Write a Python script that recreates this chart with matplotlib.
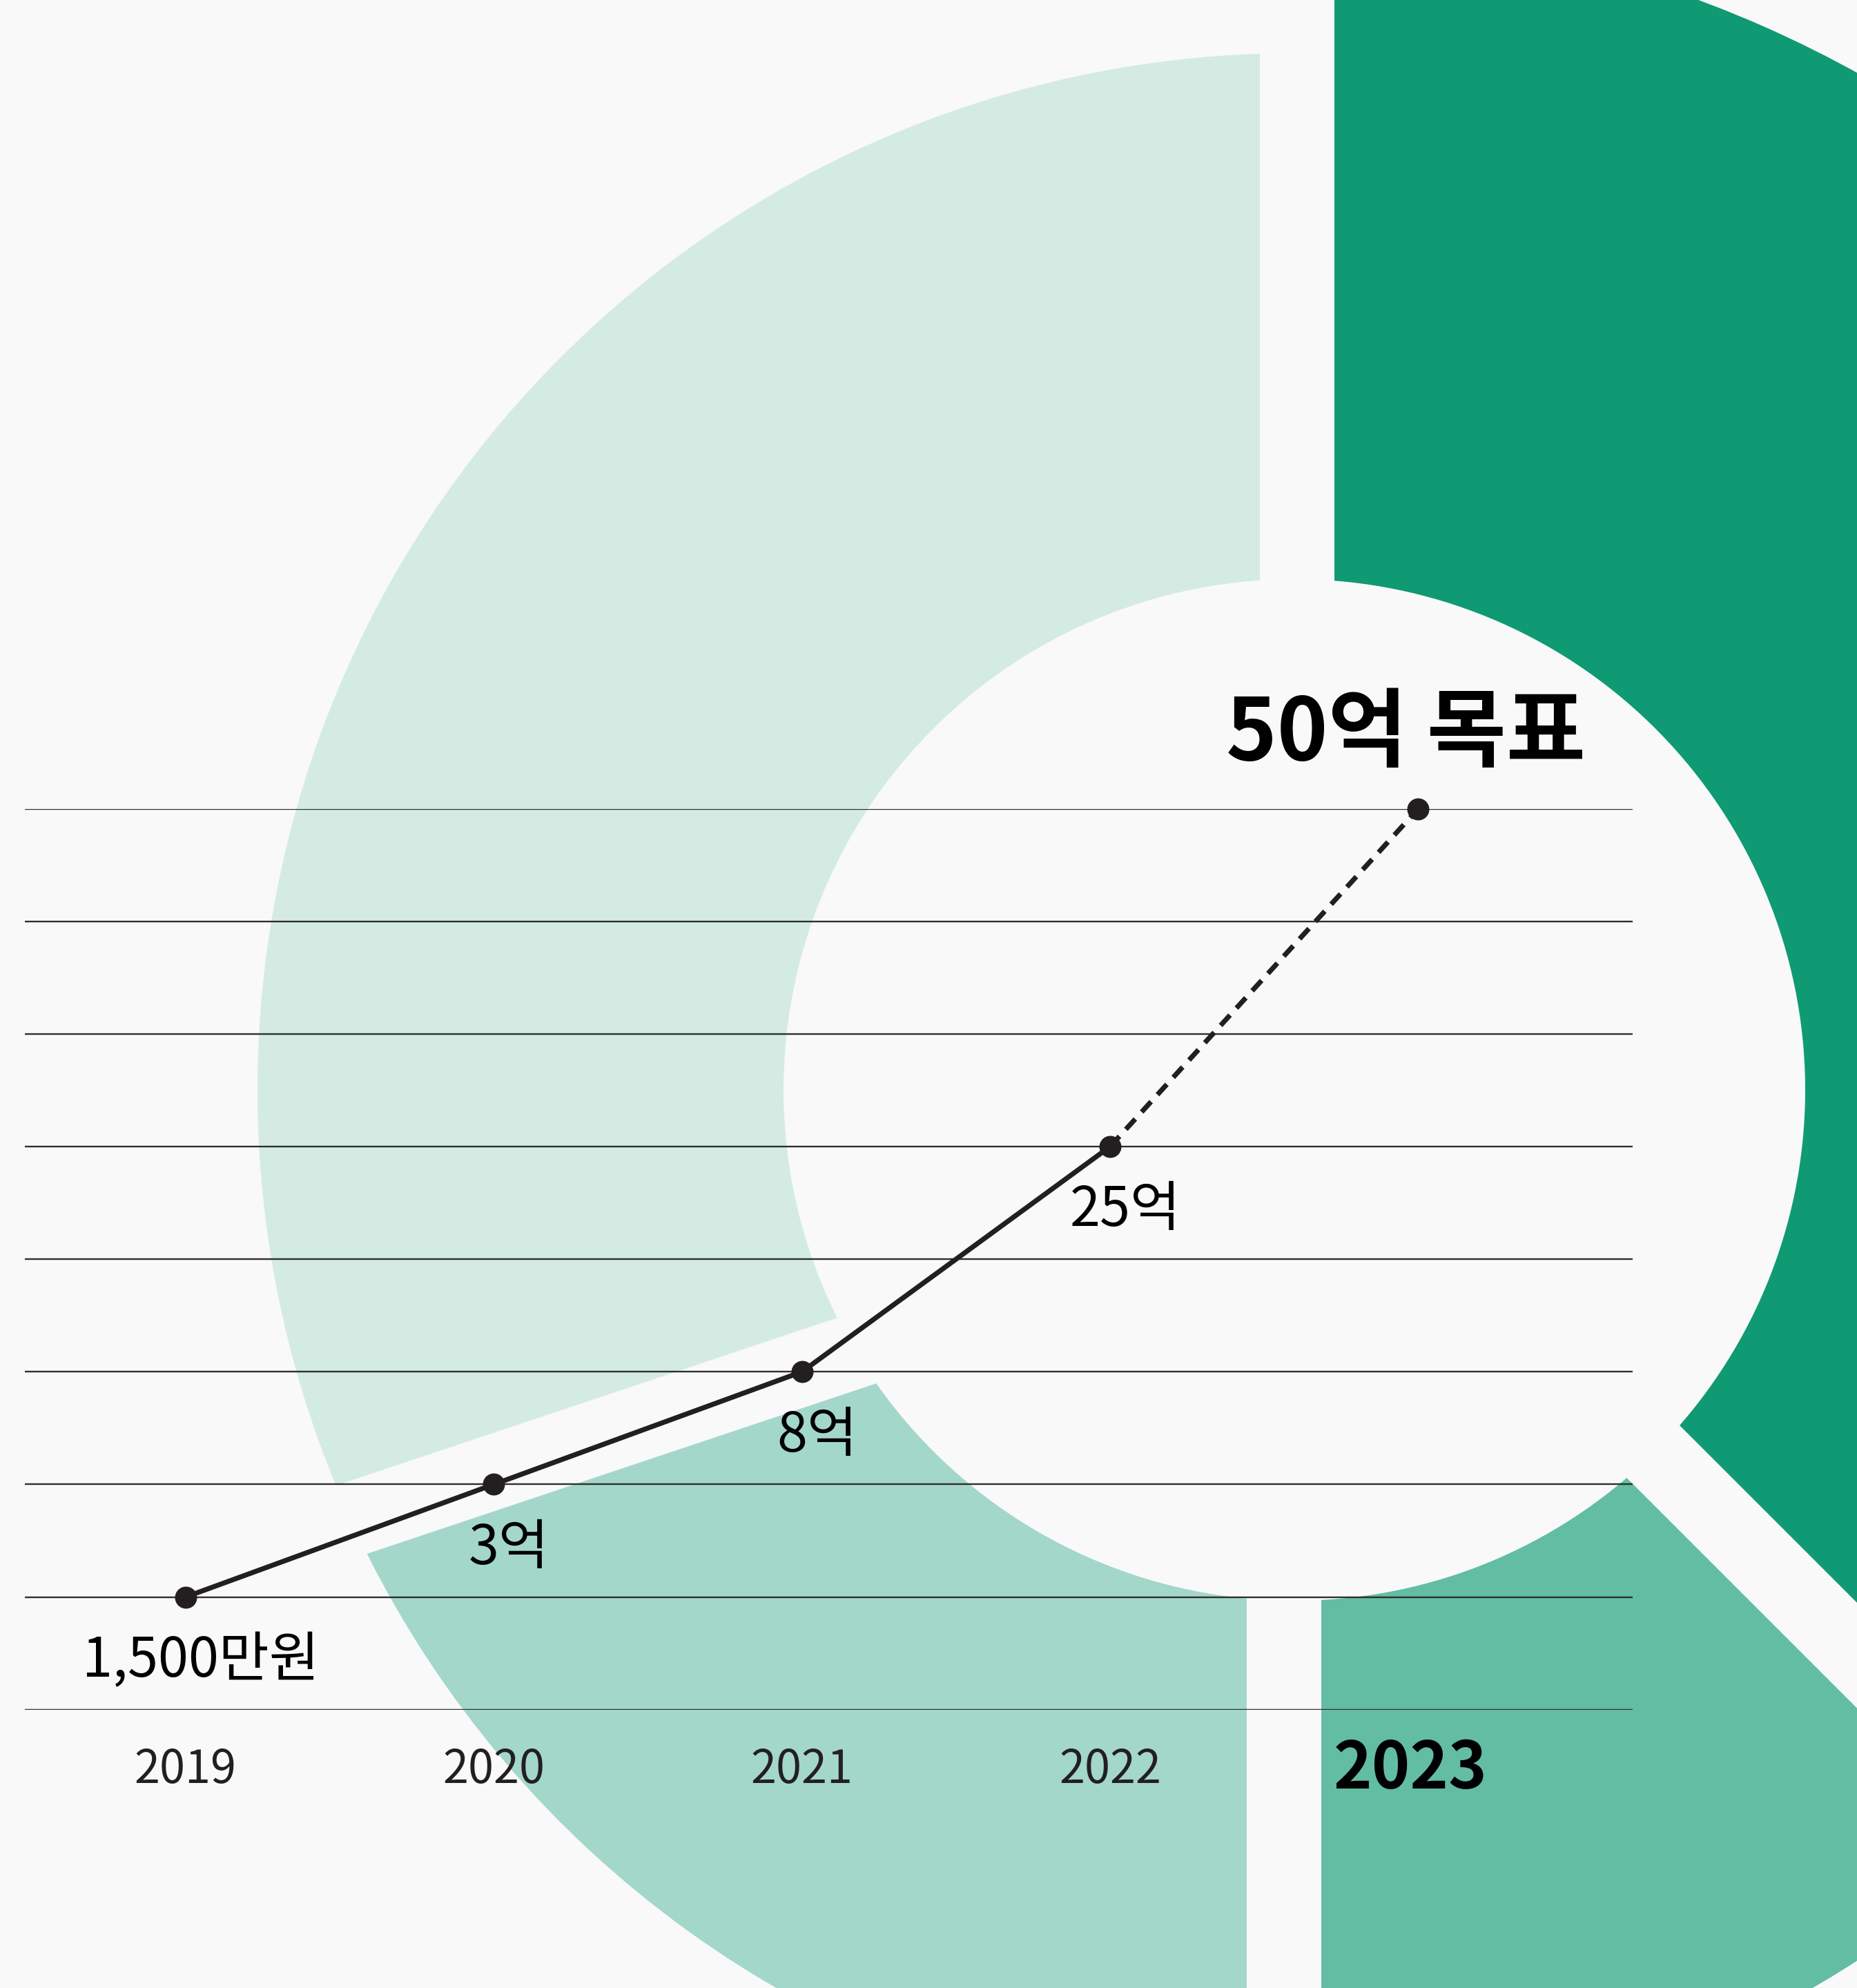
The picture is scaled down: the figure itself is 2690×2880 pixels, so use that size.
import numpy as np
import matplotlib
matplotlib.use("Agg")
import matplotlib.pyplot as plt
from matplotlib.patches import Wedge, Polygon

plt.rcParams['font.family'] = ['Noto Sans CJK KR', 'DejaVu Sans']

# Line chart data
Years = [2019, 2020, 2021, 2022, 2023]
ValueLabels = ["1,500만원", "3억", "8억", "25억", "50억 목표"]
Levels = [1, 2, 3, 5, 8]          # step of the 8-step grid each point sits on
GridLevels = list(range(0, 9))

# Background ring (pixel coords of the 2690x2880 canvas, y up)
RingCentre = (1875, 1301)
RingInner = 740
SegColours = ["#D4EBE4", "#A3D7CA", "#63BDA3", "#0F9A74"]
SegOuter = [1502, 1502, 1502, 1684]
CutAngle = [90, 198.5, 270, 315]     # degrees, ccw, one cut between each pair of segments
CutOffset = [-4, 157, -15, -3]       # how far each cut line sits off the centre
Gap = 108

Bg = "#F9F9F9"
Ink = "#231F20"

fig = plt.figure(figsize=(26.9, 28.8), dpi=100, facecolor=Bg)

# ---- background ring ----
axBg = fig.add_axes([0, 0, 1, 1])
axBg.set_xlim(0, 2690)
axBg.set_ylim(0, 2880)
axBg.axis('off')
axBg.set_facecolor(Bg)

Centre = np.array(RingCentre, dtype=float)

def CutLine(i, side):
   phi = np.radians(CutAngle[i])
   u = np.array([np.cos(phi), np.sin(phi)])
   n = np.array([-np.sin(phi), np.cos(phi)])
   q = Centre + (CutOffset[i] + side * Gap / 2) * n
   return q, u, n

for k in range(len(SegColours)):
   a = k
   b = (k + 1) % len(CutAngle)
   qa, ua, na = CutLine(a, +1)
   qb, ub, nb = CutLine(b, -1)
   # apex of the cone between the two shifted cut lines
   st = np.linalg.solve(np.column_stack([ua, -ub]), qb - qa)
   P = qa + st[0] * ua
   da = ua if np.dot(nb, ua) < 0 else -ua
   db = ub if np.dot(na, ub) > 0 else -ub
   L = 6000
   clip = Polygon([P, P + L * da, P + L * (da + db), P + L * db], closed=True,
                  transform=axBg.transData, facecolor='none', edgecolor='none')
   t1 = CutAngle[a] - 20
   t2 = CutAngle[b] + 20
   if t2 <= t1:
      t2 += 360
   w = Wedge(RingCentre, SegOuter[k], t1, t2, width=SegOuter[k] - RingInner,
             facecolor=SegColours[k], edgecolor='none')
   axBg.add_patch(w)
   w.set_clip_path(clip)

# ---- line chart ----
ax = fig.add_axes([0.01323, 0.14003, 0.86597, 0.45313])
ax.patch.set_alpha(0)
ax.axis('off')
ax.set_xlim(2018.4776, 2023.6958)
ax.set_ylim(0, 8)

for lv in GridLevels:
   ax.axhline(lv, color='#2E2E2E', lw=1.7, zorder=1)

ax.plot(Years[:4], Levels[:4], color=Ink, lw=5.2, zorder=3, clip_on=False)
ax.plot(Years[3:], Levels[3:], color=Ink, lw=5.2, ls=(0, (2.8, 1.9)), zorder=3, clip_on=False)
ax.plot(Years, Levels, 'o', ms=22, color=Ink, zorder=4, clip_on=False)

for i in range(4):
   ax.annotate(ValueLabels[i], (Years[i], Levels[i]), xytext=(16, -83), textcoords='offset points',
               ha='center', va='baseline', fontsize=57, color='black')

ax.annotate(ValueLabels[4], (Years[4], Levels[4]), xytext=(-13, 51), textcoords='offset points',
            ha='center', va='baseline', fontsize=90, fontweight='bold', color='black')

for y in Years[:4]:
   ax.annotate(str(y), (y, 0), xytext=(0, -76.5), textcoords='offset points',
               ha='center', va='baseline', fontsize=48, color=Ink)
ax.annotate(str(Years[4]), (Years[4], 0), xytext=(-8, -82), textcoords='offset points',
            ha='center', va='baseline', fontsize=68, fontweight='bold', color='black')

fig.savefig('out.png', dpi=100, facecolor=Bg)
